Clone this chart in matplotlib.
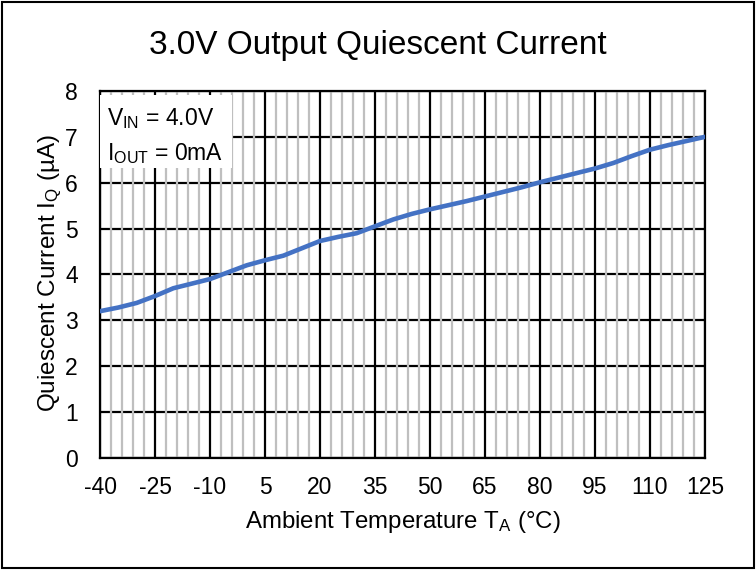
import numpy as np
import matplotlib.pyplot as plt
from matplotlib.ticker import FixedLocator
from matplotlib.patches import Rectangle

plt.rcParams['font.family'] = ['Liberation Sans', 'DejaVu Sans']
plt.rcParams['mathtext.fontset'] = 'custom'
plt.rcParams['mathtext.rm'] = 'Liberation Sans'
plt.rcParams['mathtext.it'] = 'Liberation Sans'
plt.rcParams['axes.unicode_minus'] = False

# Data
temp = [-40, -35, -30, -25, -20, -15, -10, -5, 0, 5, 10, 15, 20, 25, 30, 35, 40,
        45, 50, 55, 60, 65, 70, 75, 80, 85, 90, 95, 100, 105, 110, 115, 120, 125]
iq = [3.20, 3.28, 3.38, 3.53, 3.70, 3.80, 3.90, 4.05, 4.20, 4.31, 4.41, 4.57,
      4.73, 4.82, 4.90, 5.05, 5.20, 5.32, 5.42, 5.51, 5.60, 5.70, 5.80, 5.90,
      6.01, 6.11, 6.21, 6.31, 6.43, 6.58, 6.72, 6.82, 6.91, 7.00]

fig = plt.figure(figsize=(7.56, 5.70), dpi=100)
ax = fig.add_axes([0.1323, 0.1965, 0.8002, 0.6439])

ax.plot(temp, iq, color='#4472C4', lw=3.3, solid_capstyle='round', zorder=3)

ax.set_xlim(-40, 125)
ax.set_ylim(0, 8)
ax.xaxis.set_major_locator(FixedLocator(np.arange(-40, 126, 15)))
ax.xaxis.set_minor_locator(FixedLocator(np.arange(-40, 126, 3)))
ax.yaxis.set_major_locator(FixedLocator(np.arange(0, 9, 1)))

ax.grid(which='major', color='black', lw=1.6)
ax.grid(which='minor', axis='x', color='#bfbfbf', lw=1.6)
ax.xaxis.set_zorder(ax.yaxis.get_zorder() + 0.1)
ax.tick_params(which='both', length=0)
ax.tick_params(axis='x', labelsize=16.5, pad=13)
ax.tick_params(axis='y', labelsize=16.5, pad=16)
for s in ax.spines.values():
    s.set_color('black')
    s.set_linewidth(1.6)

ax.set_xlabel('Ambient Temperature T$_\\mathrm{A}$ (°C)', fontsize=17.3, va='center')
ax.set_ylabel('Quiescent Current I$_\\mathrm{Q}$ (µA)', fontsize=17.5, va='center')
ax.xaxis.set_label_coords(0.5, -0.174)
ax.yaxis.set_label_coords(-0.083, 0.505)
fig.text(0.5, 0.921, '3.0V Output Quiescent Current', fontsize=24,
         ha='center', va='center')

# condition box
ax.add_patch(Rectangle((0, 0.79), 0.218, 0.2, transform=ax.transAxes,
                       facecolor='white', edgecolor='none', zorder=4))
ax.text(0.0116, 0.908, 'V$_\\mathrm{IN}$ = 4.0V', transform=ax.transAxes,
        fontsize=16.5, va='baseline', ha='left', zorder=5)
ax.text(0.0116, 0.813, 'I$_\\mathrm{OUT}$ = 0mA', transform=ax.transAxes,
        fontsize=16.5, va='baseline', ha='left', zorder=5)

fig.patches.append(Rectangle((0.003, 0.004), 0.994, 0.992, transform=fig.transFigure,
                             fill=False, edgecolor='black', lw=1.5))

plt.savefig('out.png', dpi=100)
